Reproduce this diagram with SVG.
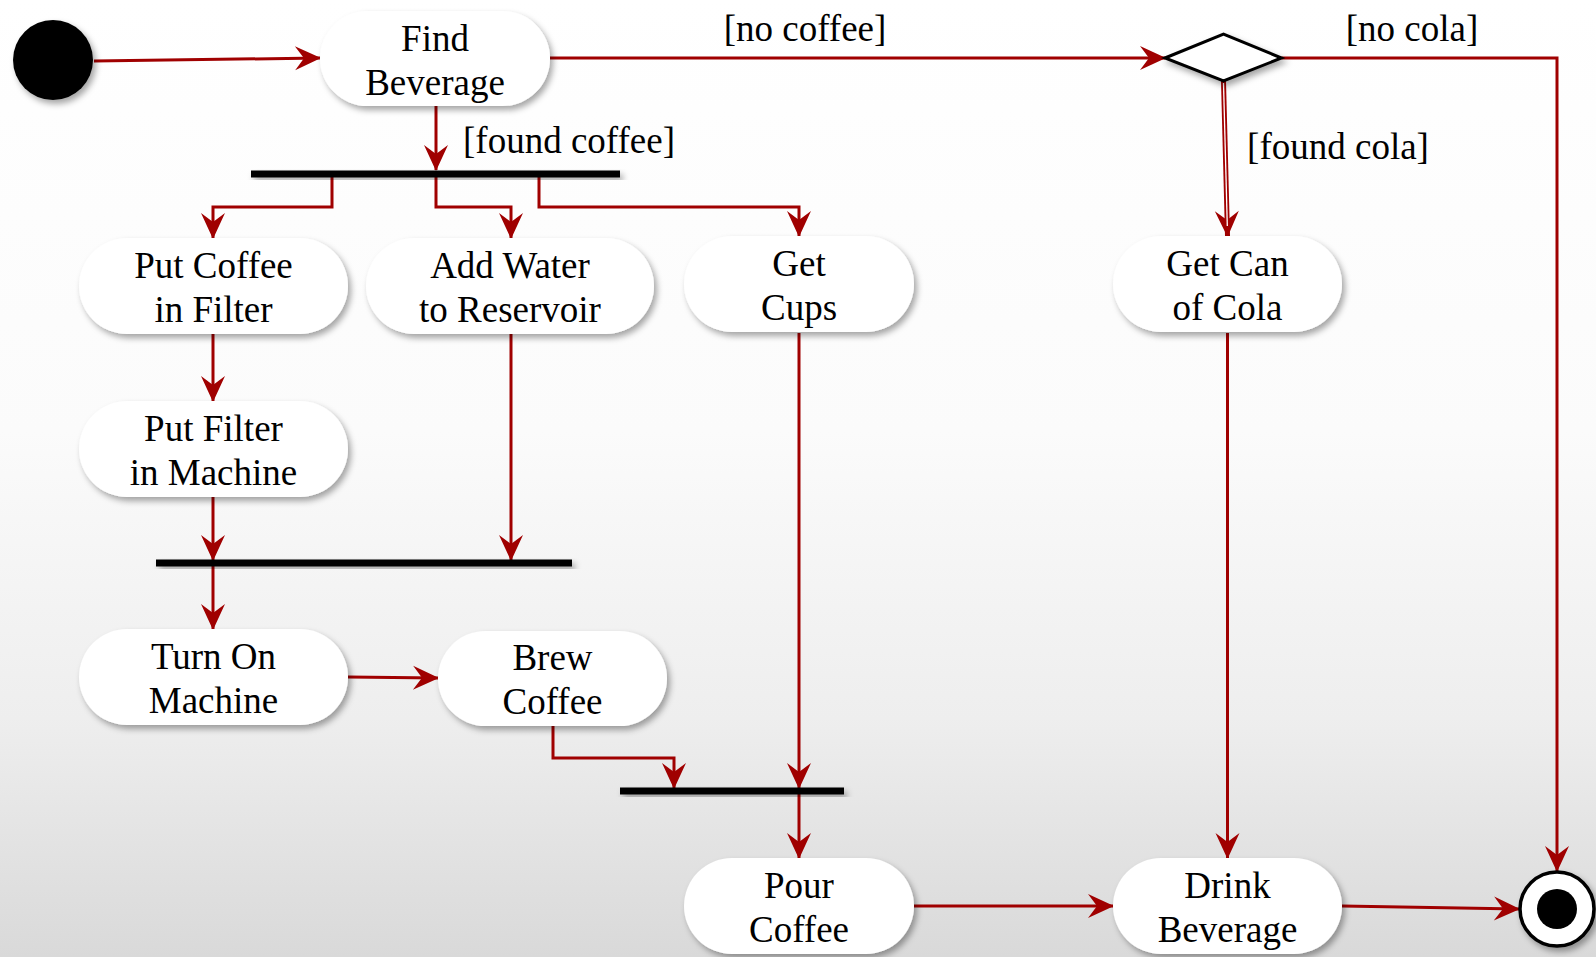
<svg xmlns="http://www.w3.org/2000/svg" width="1596" height="957" viewBox="0 0 1596 957">
<defs>
<linearGradient id="bg" x1="0" y1="0" x2="0" y2="1">
<stop offset="0" stop-color="#ffffff"/>
<stop offset="0.45" stop-color="#fbfbfb"/>
<stop offset="0.75" stop-color="#eeeeee"/>
<stop offset="1" stop-color="#d9d9d9"/>
</linearGradient>
<filter id="sh" x="-20%" y="-20%" width="140%" height="150%">
<feDropShadow dx="3" dy="4" stdDeviation="3" flood-color="#000" flood-opacity="0.35"/>
</filter>
<marker id="arr" markerUnits="userSpaceOnUse" markerWidth="27" markerHeight="24" refX="25" refY="12" orient="auto" overflow="visible">
<path d="M0,0 L26,12 L0,24 L9,12 Z" fill="#a00000"/>
</marker>
<style>
.node rect{fill:#fff;filter:url(#sh)}
.node text,.lbl{font-family:"Liberation Serif","Times New Roman",serif;font-size:37px;fill:#000;text-anchor:middle}
.c{fill:none;stroke:#a00000;stroke-width:3;marker-end:url(#arr)}
.bar{fill:#000;filter:url(#sh)}
</style>
</defs>
<rect width="1596" height="957" fill="url(#bg)"/>

<g id="connectors">
<path class="c" d="M94,61 L320,58"/>
<path class="c" d="M550,58 L1165,58"/>
<path class="c" d="M436,106 L436,170"/>
<path class="c" d="M332,177 L332,207 L213,207 L213,238"/>
<path class="c" d="M436,177 L436,207 L511,207 L511,238"/>
<path class="c" d="M539,177 L539,207 L799,207 L799,236"/>
<path d="M1223.5,81 L1227.5,236" fill="none" stroke="#a00000" stroke-width="5" marker-end="url(#arr)"/>
<path d="M1223.5,83 L1227.3,226" fill="none" stroke="#fff" stroke-width="1.3"/>
<path class="c" d="M1281.5,58 L1557,58 L1557,871"/>
<path class="c" d="M213,334 L213,401"/>
<path class="c" d="M213,497 L213,560"/>
<path class="c" d="M511,334 L511,560"/>
<path class="c" d="M213,566 L213,629"/>
<path class="c" d="M348,677 L438,678"/>
<path class="c" d="M553,726 L553,758 L674,758 L674,788"/>
<path class="c" d="M799,333 L799,788"/>
<path class="c" d="M799,794 L799,858"/>
<path class="c" d="M1227.5,333 L1227.5,858"/>
<path class="c" d="M914,906 L1113,906"/>
<path class="c" d="M1342,906 L1519,909"/>
<text class="lbl" x="805" y="41">[no coffee]</text>
<text class="lbl" x="569" y="153">[found coffee]</text>
<text class="lbl" x="1338" y="159">[found cola]</text>
<text class="lbl" x="1412" y="41">[no cola]</text>
</g>

<g id="initial"><circle cx="53" cy="60" r="40" fill="#000" filter="url(#sh)"/></g>

<g id="find-beverage" class="node"><rect x="320" y="11" width="230" height="95" rx="47.5"/><text x="435" y="51">Find</text><text x="435" y="95">Beverage</text></g>

<g id="decision"><polygon points="1165,58 1223.5,34 1281.5,58 1223.5,81" fill="#fff" stroke="#000" stroke-width="3" filter="url(#sh)"/></g>

<g id="fork1"><rect class="bar" x="251" y="170.5" width="369" height="7"/></g>

<g id="put-coffee" class="node"><rect x="79" y="238" width="269" height="96" rx="48"/><text x="213.5" y="278">Put Coffee</text><text x="213.5" y="322">in Filter</text></g>

<g id="add-water" class="node"><rect x="366" y="238" width="288" height="96" rx="48"/><text x="510" y="278">Add Water</text><text x="510" y="322">to Reservoir</text></g>

<g id="get-cups" class="node"><rect x="684" y="236" width="230" height="96" rx="48"/><text x="799" y="276">Get</text><text x="799" y="320">Cups</text></g>

<g id="get-can" class="node"><rect x="1113" y="236" width="229" height="96" rx="48"/><text x="1227.5" y="276">Get Can</text><text x="1227.5" y="320">of Cola</text></g>

<g id="put-filter" class="node"><rect x="79" y="401" width="269" height="96" rx="48"/><text x="213.5" y="441">Put Filter</text><text x="213.5" y="485">in Machine</text></g>

<g id="join1"><rect class="bar" x="156" y="559.5" width="416" height="7"/></g>

<g id="turn-on" class="node"><rect x="79" y="629" width="269" height="96" rx="48"/><text x="213.5" y="669">Turn On</text><text x="213.5" y="713">Machine</text></g>

<g id="brew" class="node"><rect x="438" y="631" width="229" height="95" rx="47.5"/><text x="552.5" y="670">Brew</text><text x="552.5" y="714">Coffee</text></g>

<g id="join2"><rect class="bar" x="620" y="787.5" width="224" height="7"/></g>

<g id="pour" class="node"><rect x="684" y="858" width="230" height="96" rx="48"/><text x="799" y="898">Pour</text><text x="799" y="942">Coffee</text></g>

<g id="drink" class="node"><rect x="1113" y="858" width="229" height="96" rx="48"/><text x="1227.5" y="898">Drink</text><text x="1227.5" y="942">Beverage</text></g>

<g id="final"><circle cx="1557" cy="909" r="37" fill="#fff" stroke="#000" stroke-width="3.5" filter="url(#sh)"/><circle cx="1557" cy="909" r="20" fill="#000"/></g>
</svg>
